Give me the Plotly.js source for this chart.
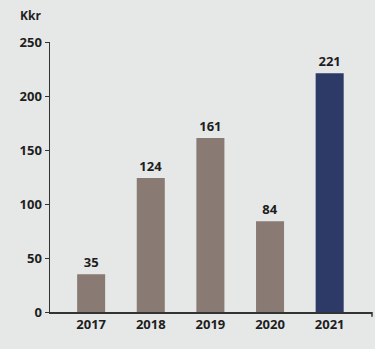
<!DOCTYPE html>
<html><head><meta charset="utf-8">
<script src="https://cdn.plot.ly/plotly-3.0.1.min.js"></script>
<style>html,body{margin:0;padding:0;background:#e6e8e7;}#c{width:375px;height:349px;}</style>
</head><body><div id="c"></div>
<script>
const years = ['2017','2018','2019','2020','2021'];
const values = [35, 124, 161, 84, 221];
const barColors = ['#8a7a74','#8a7a74','#8a7a74','#8a7a74','#2d3a68'];
const unitLabel = 'Kkr';
const yTicks = [0, 50, 100, 150, 200, 250];

const font = {family: 'Open Sans, sans-serif', size: 13, color: '#1e1e1e', weight: 700};

Plotly.newPlot('c', [{
  type: 'bar', x: years, y: values,
  marker: {color: barColors},
  width: 0.47,
  text: values.map(String), textposition: 'outside', cliponaxis: false,
  textfont: font, hoverinfo: 'none'
}], {
  width: 375, height: 349,
  margin: {l: 50, r: 3, t: 42, b: 37},
  paper_bgcolor: '#e6e8e7', plot_bgcolor: 'rgba(0,0,0,0)',
  showlegend: false,
  font: font,
  xaxis: {type: 'category', range: [-0.69, 4.71], showline: true, linecolor: '#333', linewidth: 1.5,
          ticks: '', showgrid: false, zeroline: false, tickfont: font},
  yaxis: {range: [0, 250], tickvals: yTicks, showline: true, linecolor: '#333', linewidth: 1.5,
          ticks: 'outside', ticklen: 4, tickcolor: '#333', showgrid: false, zeroline: false, tickfont: font},
  shapes: [{type: 'line', xref: 'paper', yref: 'paper', x0: 1, x1: 1, y0: 0, y1: -0.018,
            line: {color: '#333', width: 1.5}}],
  annotations: [{text: unitLabel, xref: 'paper', yref: 'paper', x: 0, y: 1, xanchor: 'center', yanchor: 'bottom',
                 xshift: -20, yshift: 16, showarrow: false, font: {family: 'Open Sans, sans-serif', size: 12, color: '#1e1e1e', weight: 700}}]
}, {staticPlot: true});
</script></body></html>
